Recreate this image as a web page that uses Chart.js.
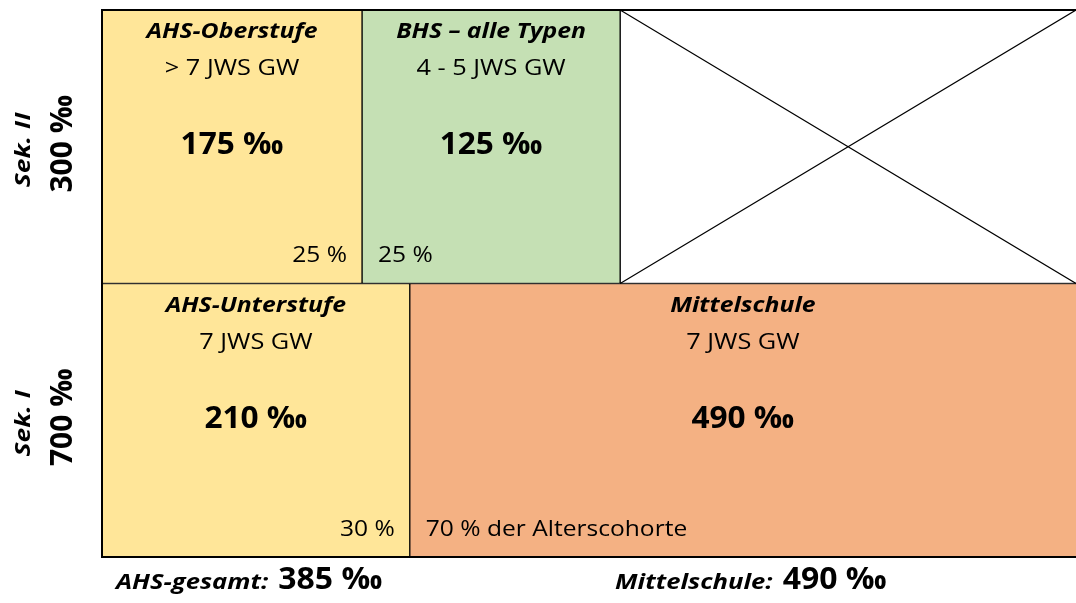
<!DOCTYPE html>
<html>
<head>
<meta charset="utf-8">
<script src="https://cdn.jsdelivr.net/npm/chart.js@4"></script>
<style>
  html, body { margin: 0; padding: 0; background: #fff; }
  #wrap { width: 1076px; height: 603px; position: relative; }
</style>
</head>
<body>
<div id="wrap"><canvas id="schoolChart" width="1076" height="603"></canvas></div>
<script>
// rows (Sekundarstufe) and their share
const rows = ['Sek. II', 'Sek. I'];
const rowTotals = ['300 ‰', '700 ‰'];

// segment widths per row, in % of the row
const firstSeg = [26.7, 31.6];
const secondSeg = [26.5, 68.4];
const blankSeg = [46.8, 0];

// texts in the cells
const segTitles = [['AHS-Oberstufe', 'BHS – alle Typen'], ['AHS-Unterstufe', 'Mittelschule']];
const segSubs = [['> 7 JWS GW', '4 - 5 JWS GW'], ['7 JWS GW', '7 JWS GW']];
const segValues = [['175 ‰', '125 ‰'], ['210 ‰', '490 ‰']];
const segShares = [['25 %', '25 %'], ['30 %', '70 % der Alterscohorte']];

// footer totals
const footLabels = ['AHS-gesamt:', 'Mittelschule:'];
const footValues = ['385 ‰', '490 ‰'];

const yellow = '#FFE699';
const green = '#C5E0B4';
const orange = '#F4B183';
const FONT = '"Open Sans", Lato, sans-serif';
const openRight = { top: 1, bottom: 1, left: 1, right: 0 };

// draw text, a little wider than the font to get closer to Calibri
function txt(ctx, s, x, y, font, align, sx) {
    ctx.save();
    ctx.font = font;
    ctx.textAlign = align;
    ctx.translate(x, y);
    ctx.scale(sx, 1);
    ctx.fillText(s, 0, 0);
    ctx.restore();
}

const cellText = {
    id: 'cellText',
    afterDatasetsDraw(chart) {
        const ctx = chart.ctx;
        const area = chart.chartArea;
        ctx.save();

        // cross in the empty cell
        const blank = chart.getDatasetMeta(2).data[0];
        const bTop = blank.y - blank.height / 2, bBot = blank.y + blank.height / 2;
        ctx.strokeStyle = '#000';
        ctx.lineWidth = 1.2;
        ctx.beginPath();
        ctx.moveTo(blank.base, bTop); ctx.lineTo(area.right, bBot);
        ctx.moveTo(blank.base, bBot); ctx.lineTo(area.right, bTop);
        ctx.stroke();

        // outer frame (open on the right, it runs off the picture)
        ctx.lineWidth = 2;
        ctx.beginPath();
        ctx.moveTo(area.right + 2, area.top);
        ctx.lineTo(area.left, area.top);
        ctx.lineTo(area.left, area.bottom);
        ctx.lineTo(area.right + 2, area.bottom);
        ctx.stroke();

        ctx.fillStyle = '#000';
        ctx.textBaseline = 'alphabetic';
        for (let r = 0; r < rows.length; r++) {
            for (let s = 0; s < 2; s++) {
                const bar = chart.getDatasetMeta(s).data[r];
                const top = bar.y - bar.height / 2;
                const cx = (bar.base + bar.x) / 2;
                txt(ctx, segTitles[r][s], cx, top + 28, 'italic bold 21px ' + FONT, 'center', 1.18);
                txt(ctx, segSubs[r][s], cx, top + 65, '22px ' + FONT, 'center', 1.15);
                txt(ctx, segValues[r][s], cx, top + 144, 'bold 31px ' + FONT, 'center', 1.02);
                if (s === 0) {
                    txt(ctx, segShares[r][s], bar.x - 15, top + 252, '21px ' + FONT, 'right', 1.17);
                } else {
                    txt(ctx, segShares[r][s], bar.base + 16, top + 252, '21px ' + FONT, 'left', 1.17);
                }
            }
            // row labels, rotated
            const bar = chart.getDatasetMeta(0).data[r];
            ctx.save();
            ctx.textBaseline = 'middle';
            ctx.translate(24, bar.y + 3);
            ctx.rotate(-Math.PI / 2);
            txt(ctx, rows[r], 0, 0, 'italic bold 22px ' + FONT, 'center', 1.2);
            ctx.restore();
            ctx.save();
            ctx.textBaseline = 'middle';
            ctx.translate(63, bar.y - 3);
            ctx.rotate(-Math.PI / 2);
            txt(ctx, rowTotals[r], 0, 0, 'bold 30px ' + FONT, 'center', 1.0);
            ctx.restore();
        }

        // footer
        const footX = [116, 615];
        for (let i = 0; i < footLabels.length; i++) {
            ctx.font = 'italic bold 21px ' + FONT;
            const w = ctx.measureText(footLabels[i]).width * 1.22;
            txt(ctx, footLabels[i], footX[i], 589, 'italic bold 21px ' + FONT, 'left', 1.22);
            txt(ctx, footValues[i], footX[i] + w + 10, 589, 'bold 31px ' + FONT, 'left', 1.03);
        }
        ctx.restore();
    }
};

const ctx = document.getElementById('schoolChart').getContext('2d');
const schoolChart = new Chart(ctx, {
    type: 'bar',
    data: {
        labels: rows,
        datasets: [{
            data: firstSeg,
            backgroundColor: [yellow, yellow],
            borderWidth: 1
        }, {
            data: secondSeg,
            backgroundColor: [green, orange],
            borderWidth: [1, openRight]
        }, {
            data: blankSeg,
            backgroundColor: '#ffffff',
            borderWidth: [openRight, 0]
        }]
    },
    options: {
        indexAxis: 'y',
        responsive: false,
        animation: false,
        layout: { padding: { left: 102, top: 10, right: 0, bottom: 46 } },
        datasets: {
            bar: {
                barPercentage: 1,
                categoryPercentage: 1,
                borderColor: '#000',
                borderSkipped: false
            }
        },
        scales: {
            x: { stacked: true, min: 0, max: 100, display: false },
            y: { stacked: true, display: false }
        },
        plugins: {
            legend: { display: false },
            tooltip: { enabled: false }
        }
    },
    plugins: [cellText]
});
</script>
</body>
</html>
